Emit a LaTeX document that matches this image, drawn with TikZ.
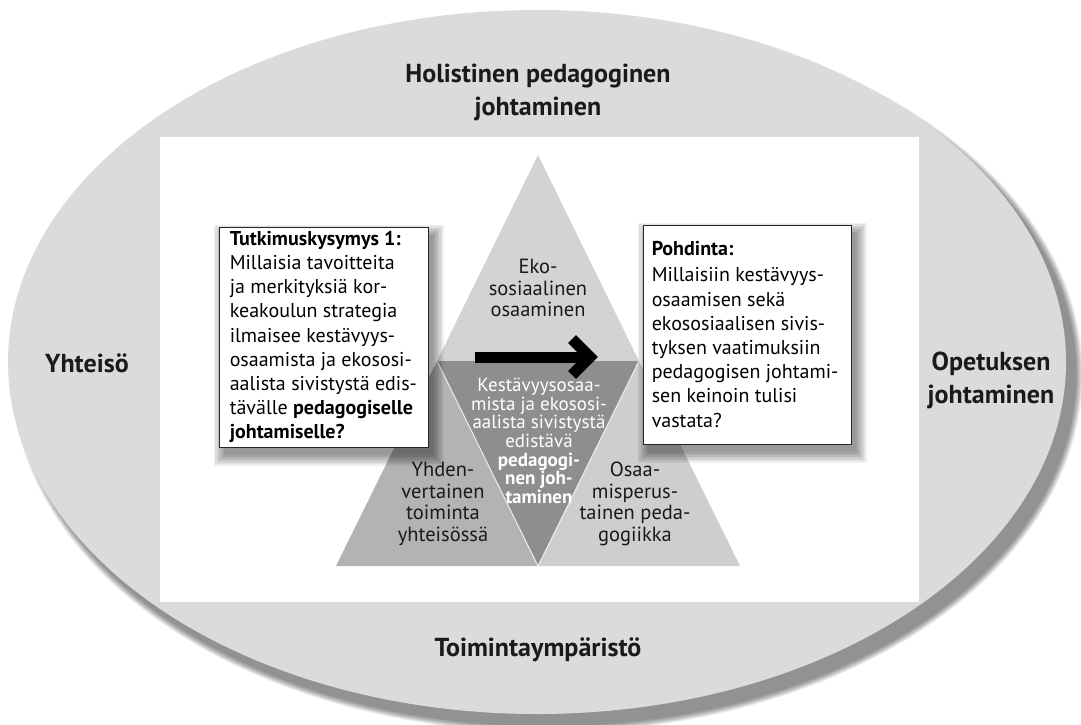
\documentclass[tikz,border=0pt]{standalone}
\usepackage{fontspec}
\setmainfont{PT Sans}
\definecolor{ellgray}{HTML}{DBDBDB}
\definecolor{topgray}{HTML}{D3D3D3}
\definecolor{leftgray}{HTML}{B3B3B3}
\definecolor{rightgray}{HTML}{CECECE}
\definecolor{midgray}{HTML}{8E8E8E}
\definecolor{ink}{HTML}{1A1A1A}
\begin{document}
\begin{tikzpicture}[x=1pt,y=-1pt,
  qframe/.style={draw=black!85, line width=0.9pt, fill=white, minimum width=209pt, minimum height=220pt, inner sep=0pt},
  qtext/.style={anchor=west, inner sep=0pt, align=left, font=\fontsize{20}{24.2}\selectfont, text=black},
  titlelab/.style={font=\fontsize{26}{33}\selectfont\bfseries, align=center, text=ink},
  tlab/.style={font=\fontsize{20.5}{21.5}\selectfont, align=center, text=ink},
  clab/.style={font=\fontsize{19}{18.7}\selectfont, align=center, text=white},
  seam/.style={draw=white, line width=1pt, opacity=0.8},
  arrowstroke/.style={draw=black, line width=11pt, line join=miter}
]
\useasboundingbox (0,0) rectangle (1081,725);
\fill[white] (0,0) rectangle (1081,725);

% ellipse shadow
\foreach \k in {1,...,12}{
  \fill[black, opacity=0.045] (547,374) ellipse [x radius={(529+(12-\k)*0.6)*1pt}, y radius={(352+(12-\k)*0.6)*1pt}];
}
\fill[ellgray] (537,362) ellipse [x radius=529pt, y radius=352pt];

% white panel
\fill[white] (160,137) rectangle (919,602);

% triangles
\coordinate (A) at (538,155);
\coordinate (ML) at (437,361);
\coordinate (MR) at (639,361);
\coordinate (BL) at (336,566);
\coordinate (BR) at (740,566);
\coordinate (MB) at (538,566);
\fill[topgray] (A) -- (ML) -- (MR) -- cycle;
\fill[leftgray] (ML) -- (BL) -- (MB) -- cycle;
\fill[rightgray] (MR) -- (MB) -- (BR) -- cycle;
\fill[midgray] (ML) -- (MR) -- (MB) -- cycle;
\draw[seam] (ML) -- (MB) -- (MR);

% arrow
\coordinate (arS) at (475,357);
\coordinate (arE) at (586,357);
\coordinate (arT) at (590,357);
\coordinate (arU) at (572,339);
\coordinate (arD) at (572,375);
\draw[arrowstroke, line cap=butt] (arS) -- (arE);
\draw[arrowstroke] (arU) -- (arT) -- (arD);

% triangle labels
\node[tlab] (eko) at (538,288) {Eko-\\sosiaalinen\\osaaminen};
\node[clab] (mid) at (539,441) {Kestävyysosaa-\\mista ja ekososi-\\aalista sivistystä\\edistävä\\\textbf{pedagogi-}\\\textbf{nen joh-}\\\textbf{taminen}};
\node[tlab] (yhd) at (443,504) {Yhden-\\vertainen\\toiminta\\yhteisössä};
\node[tlab] (osa) at (635,504) {Osaa-\\misperus-\\tainen peda-\\gogiikka};

% box shadows
\foreach \k in {1,...,8}{
  \fill[black, opacity=0.06] ({219+5-(8-\k)*1.5}, {227+8-(8-\k)*1.5}) rectangle ({428+5+(8-\k)*1.5}, {447+8+(8-\k)*1.5});
  \fill[black, opacity=0.06] ({643+5-(8-\k)*1.5}, {225+8-(8-\k)*1.5}) rectangle ({851+5+(8-\k)*1.5}, {444+8+(8-\k)*1.5});
}

% boxes
\node[qframe, minimum height=220pt] (lbox) at (323.5,337) {};
\node[qtext] (ltext) at ([xshift=11pt]lbox.west) {\textbf{Tutkimuskysymys 1:}\\Millaisia tavoitteita\\ja merkityksiä kor-\\keakoulun strategia\\ilmaisee kestävyys-\\osaamista ja ekososi-\\aalista sivistystä edis-\\tävälle \textbf{pedagogiselle}\\\textbf{johtamiselle?}};
\node[qframe, minimum width=208pt, minimum height=219pt] (rbox) at (747,334.5) {};
\node[qtext] (rtext) at ([xshift=9pt]rbox.west) {\textbf{Pohdinta:}\\[2pt]Millaisiin kestävyys-\\osaamisen sekä\\ekososiaalisen sivis-\\tyksen vaatimuksiin\\pedagogisen johtami-\\sen keinoin tulisi\\vastata?};

% outer labels
\node[titlelab] (hol) at (538,92) {Holistinen pedagoginen\\johtaminen};
\node[titlelab] (yht) at (87,363) {Yhteisö};
\node[titlelab] (ope) at (991,380) {Opetuksen\\johtaminen};
\node[titlelab] (toi) at (538,650) {Toimintaympäristö};
\end{tikzpicture}
\end{document}
